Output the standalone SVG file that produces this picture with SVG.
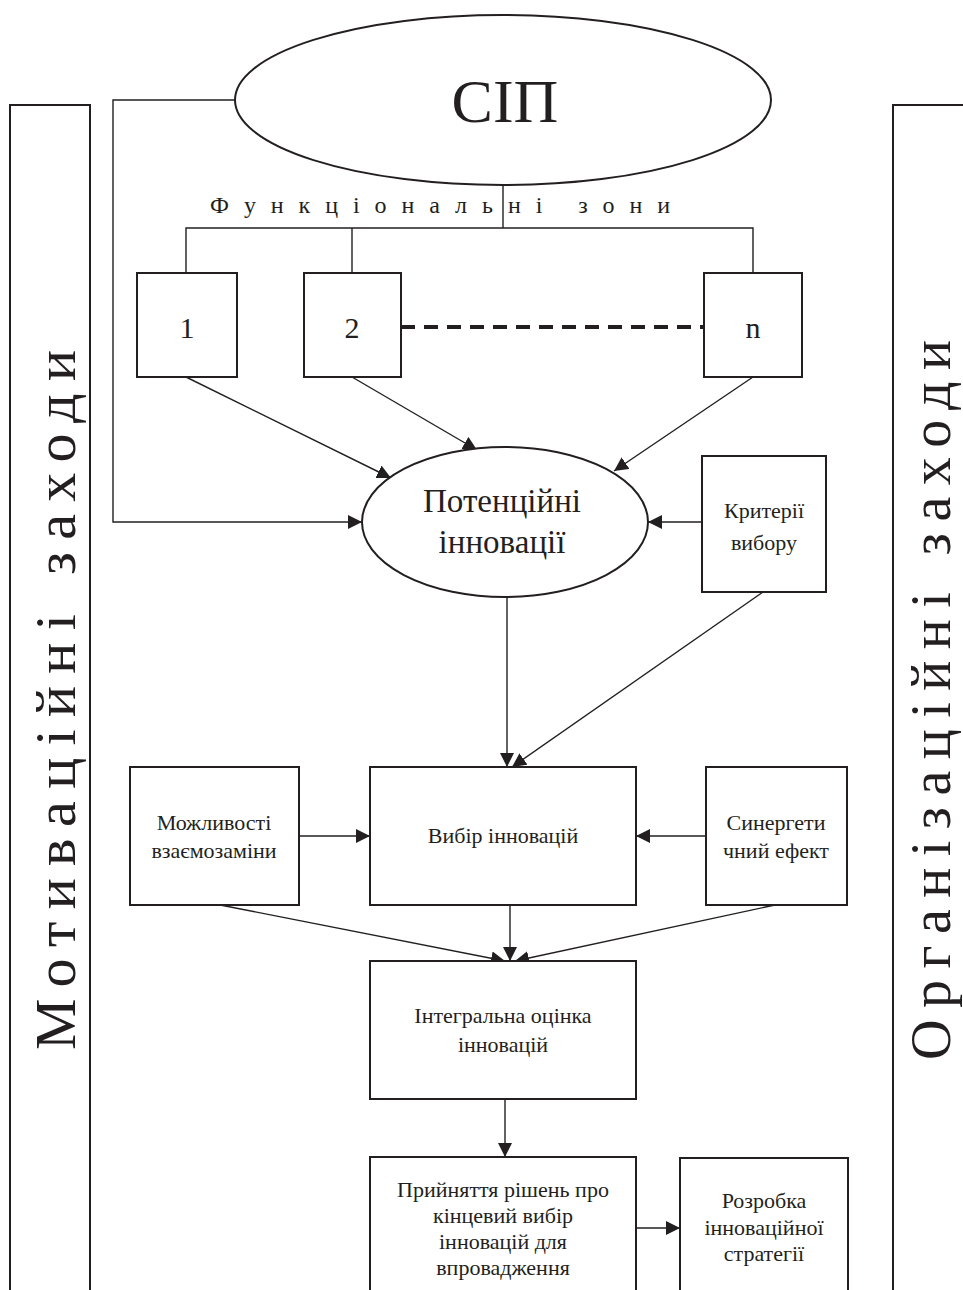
<svg xmlns="http://www.w3.org/2000/svg" width="963" height="1290" viewBox="0 0 963 1290">
<style>
.b{fill:#fff;stroke:#231f20;stroke-width:2}
.c{fill:none;stroke:#231f20;stroke-width:1.4}
.t{font-family:"Liberation Serif","Times New Roman",serif;fill:#231f20;text-anchor:middle}
.s{font-size:22px}
</style>
<defs>
<marker id="a" viewBox="0 0 10 10" refX="10" refY="5" markerWidth="14" markerHeight="14" markerUnits="userSpaceOnUse" orient="auto">
<path d="M0,0 L10,5 L0,10 z" fill="#231f20"/>
</marker>
</defs>
<rect width="963" height="1290" fill="#fff"/>
<g id="left-panel">
<rect class="b" x="10" y="105" width="80" height="1200"/>
<text class="t" font-size="58" transform="translate(75,700) rotate(-90)" textLength="700" lengthAdjust="spacing">Мотиваційні заходи</text>
</g>
<g id="right-panel">
<rect class="b" x="893" y="105" width="90" height="1200"/>
<text class="t" font-size="56" transform="translate(950,700) rotate(-90)" textLength="720" lengthAdjust="spacing">Організаційні заходи</text>
</g>
<g id="connectors">
<polyline class="c" points="235,100 113,100 113,522 362,522" marker-end="url(#a)"/>
<line class="c" x1="503" y1="185" x2="503" y2="228"/>
<polyline class="c" points="186,273 186,228 753,228 753,273"/>
<line class="c" x1="352" y1="228" x2="352" y2="273"/>
<line x1="401" y1="327" x2="704" y2="327" stroke="#231f20" stroke-width="4" stroke-dasharray="14,9"/>
<line class="c" x1="186" y1="377" x2="391" y2="478" marker-end="url(#a)"/>
<line class="c" x1="352" y1="377" x2="477" y2="450" marker-end="url(#a)"/>
<line class="c" x1="753" y1="377" x2="614" y2="471" marker-end="url(#a)"/>
<line class="c" x1="702" y1="522" x2="648" y2="522" marker-end="url(#a)"/>
<line class="c" x1="507" y1="597" x2="507" y2="767" marker-end="url(#a)"/>
<line class="c" x1="763" y1="592" x2="512" y2="767" marker-end="url(#a)"/>
<line class="c" x1="299" y1="836" x2="370" y2="836" marker-end="url(#a)"/>
<line class="c" x1="706" y1="836" x2="636" y2="836" marker-end="url(#a)"/>
<line class="c" x1="210" y1="903" x2="505" y2="961" marker-end="url(#a)"/>
<line class="c" x1="510" y1="905" x2="510" y2="961" marker-end="url(#a)"/>
<line class="c" x1="775" y1="905" x2="515" y2="961" marker-end="url(#a)"/>
<line class="c" x1="505" y1="1099" x2="505" y2="1157" marker-end="url(#a)"/>
<line class="c" x1="636" y1="1228" x2="680" y2="1228" marker-end="url(#a)"/>
</g>
<g id="sip">
<ellipse class="b" cx="503" cy="100" rx="268" ry="85" stroke-width="1.5"/>
<text class="t" font-size="62" x="505" y="122">СІП</text>
</g>
<g id="zones-label">
<text class="t" font-size="24" x="440" y="213" textLength="460" lengthAdjust="spacing">Функціональні зони</text>
</g>
<g id="zone1">
<rect class="b" x="137" y="273" width="100" height="104"/>
<text class="t" font-size="30" x="187" y="338">1</text>
</g>
<g id="zone2">
<rect class="b" x="304" y="273" width="97" height="104"/>
<text class="t" font-size="30" x="352" y="338">2</text>
</g>
<g id="zonen">
<rect class="b" x="704" y="273" width="98" height="104"/>
<text class="t" font-size="30" x="753" y="338">n</text>
</g>
<g id="potential">
<ellipse class="b" cx="505" cy="522" rx="143" ry="75" stroke-width="1.5"/>
<text class="t" font-size="33" x="502" y="512">Потенційні</text>
<text class="t" font-size="33" x="502" y="553">інновації</text>
</g>
<g id="criteria">
<rect class="b" x="702" y="456" width="124" height="136"/>
<text class="t s" x="764" y="518">Критерії</text>
<text class="t s" x="764" y="550">вибору</text>
</g>
<g id="choice">
<rect class="b" x="370" y="767" width="266" height="138"/>
<text class="t s" x="503" y="843">Вибір інновацій</text>
</g>
<g id="substitution">
<rect class="b" x="130" y="767" width="169" height="138"/>
<text class="t s" x="214" y="830">Можливості</text>
<text class="t s" x="214" y="858">взаємозаміни</text>
</g>
<g id="synergy">
<rect class="b" x="706" y="767" width="141" height="138"/>
<text class="t s" x="776" y="830">Синергети</text>
<text class="t s" x="776" y="858">чний ефект</text>
</g>
<g id="integral">
<rect class="b" x="370" y="961" width="266" height="138"/>
<text class="t s" x="503" y="1023">Інтегральна оцінка</text>
<text class="t s" x="503" y="1052">інновацій</text>
</g>
<g id="decision">
<rect class="b" x="370" y="1157" width="266" height="150"/>
<text class="t s" x="503" y="1197">Прийняття рішень про</text>
<text class="t s" x="503" y="1223">кінцевий вибір</text>
<text class="t s" x="503" y="1249">інновацій для</text>
<text class="t s" x="503" y="1275">впровадження</text>
</g>
<g id="strategy">
<rect class="b" x="680" y="1158" width="168" height="150"/>
<text class="t s" x="764" y="1208">Розробка</text>
<text class="t s" x="764" y="1235">інноваційної</text>
<text class="t s" x="764" y="1261">стратегії</text>
</g>
</svg>
